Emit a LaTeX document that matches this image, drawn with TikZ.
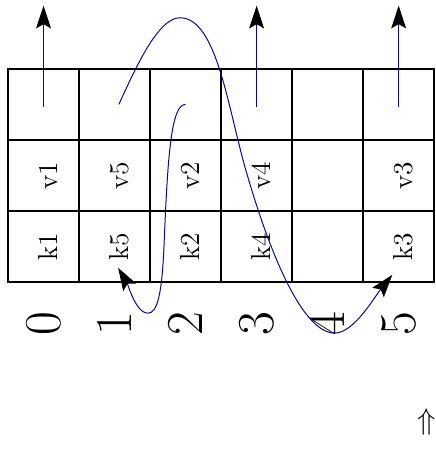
\documentclass[tikz,border=0pt]{standalone}
\usepackage{amsmath,amssymb}
\usepackage{xcolor}
\definecolor{probeblue}{RGB}{10,10,140}
\usepackage{tikz}
\usetikzlibrary{
    arrows.meta,
    calc
}
\tikzset{
    slotcell/.style = {rectangle, draw=black, line width=0.55pt, minimum size=1cm,
                       inner sep=0pt, rotate=90, font=\fontsize{11}{13}\selectfont,
                       text height=10.8pt, text depth=0pt},
    idxlabel/.style = {rotate=90, font=\huge, inner sep=0pt},
    moveArr/.style  = {-{Stealth[length=3.2mm, width=2.1mm, inset=0.6mm, black]},
                       draw=probeblue}
}

\begin{document}
\begin{tikzpicture}
\useasboundingbox (-0.113,-2.366) rectangle (6.014,3.97);

% ===== Slots: key row, value row, outgoing row =====
\foreach \i/\k/\v in {0/k1/v1, 1/k5/v5, 2/k2/v2, 3/k4/v4, 4/{}/{}, 5/k3/v3} {
    \node[slotcell] (key\i) at (\i+0.5, 0.5) {\k};
    \node[slotcell] (val\i) at (\i+0.5, 1.5) {\v};
    \node[slotcell] (top\i) at (\i+0.5, 2.5) {};
    \node[idxlabel] (idx\i) at (\i+0.5, -0.58) {\i};
}

% ===== Entries leaving the table =====
\foreach \i in {0,3,5} {
    \coordinate (out\i) at (\i+0.5, 3.89);
    \draw[moveArr] ([yshift=-0.4mm]top\i.center) -- (out\i);
}

% ===== Displacement paths =====
\draw[moveArr] ([xshift=0.6mm]top1.center)
   .. controls (1.77,2.95) and (2.1,3.72) .. (2.42,3.72)
   .. controls (2.95,3.72) and (3.1,2.4) .. (3.37,1.5)
   .. controls (3.62,0.64) and (4.1,-0.72) .. (4.6,-0.72)
   .. controls (4.87,-0.72) and (5.16,-0.21) .. ([shift={(-0.09,-0.4)}]key5.center);

\draw[moveArr] (top2.center)
   .. controls (2.3,2.5) and (2.25,1.8) .. (2.2,0.6)
   .. controls (2.17,-0.2) and (2.1,-0.45) .. (1.96,-0.44)
   .. controls (1.8,-0.43) and (1.68,-0.02) .. ([shift={(0.05,-0.3)}]key1.center);

% ===== Direction hint =====
\node[font=\large] (hint) at (5.89,-1.97) {$\Uparrow$};

\end{tikzpicture}
\end{document}
